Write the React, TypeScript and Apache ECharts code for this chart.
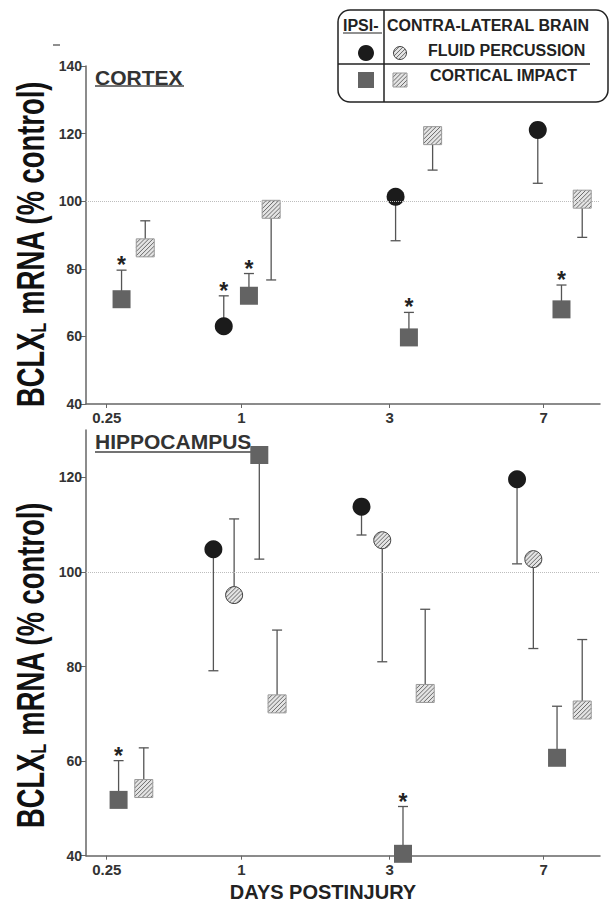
import React, { useEffect, useRef } from 'react';
import * as echarts from 'echarts';

// ---------- axis / categories ----------
const DAY_LABELS = ['0.25', '1', '3', '7'];
const DAY_POS = [0.14, 1.05, 2.05, 3.09];
const X_MAX = 3.47;
const TOP_Y_TICKS = [40, 60, 80, 100, 120, 140];
const BOT_Y_TICKS = [40, 60, 80, 100, 120];

// ---------- CORTEX ----------
// fluid percussion, ipsilateral (black circle)
const cxFpIpsiX = [0.93, 2.09, 3.05];
const cxFpIpsiY = [63, 101.3, 121.1];
const cxFpIpsiErr = [72, 88.3, 105.3];
const cxFpIpsiSig = [1, 0, 0];
// cortical impact, ipsilateral (gray square)
const cxCiIpsiX = [0.24, 1.1, 2.18, 3.21];
const cxCiIpsiY = [71, 72, 59.7, 68];
const cxCiIpsiErr = [79.6, 78.6, 67.1, 75.2];
const cxCiIpsiSig = [1, 1, 1, 1];
// cortical impact, contralateral (hatched square)
const cxCiContraX = [0.4, 1.25, 2.34, 3.35];
const cxCiContraY = [86.2, 97.6, 119.4, 100.6];
const cxCiContraErr = [94.2, 76.7, 109.2, 89.3];
const cxCiContraSig = [0, 0, 0, 0];

// ---------- HIPPOCAMPUS ----------
const hcFpIpsiX = [0.86, 1.86, 2.91];
const hcFpIpsiY = [104.8, 113.8, 119.6];
const hcFpIpsiErr = [79.1, 107.8, 101.7];
const hcFpIpsiSig = [0, 0, 0];
const hcFpContraX = [1.0, 2.0, 3.02];
const hcFpContraY = [95.1, 106.7, 102.7];
const hcFpContraErr = [111.2, 81, 83.8];
const hcFpContraSig = [0, 0, 0];
const hcCiIpsiX = [0.22, 1.17, 2.14, 3.18];
const hcCiIpsiY = [51.8, 124.7, 40.4, 60.7];
const hcCiIpsiErr = [60.1, 102.7, 50.4, 71.6];
const hcCiIpsiSig = [1, 0, 1, 0];
const hcCiContraX = [0.39, 1.29, 2.29, 3.35];
const hcCiContraY = [54.2, 72.1, 74.3, 70.8];
const hcCiContraErr = [62.8, 87.7, 92.1, 85.7];
const hcCiContraSig = [0, 0, 0, 0];

const FONT = '"Liberation Sans", Arial, Helvetica, sans-serif';
const BAR_COLOR = '#555';
const HATCH_FILL = '#e4e4e4';
const HATCH_LINE = '#6a6a6a';

function hatchSquare(cx: number, cy: number, s: number, step = 4.2): any[] {
  const L = cx - s / 2;
  const T = cy - s / 2;
  const out: any[] = [];
  for (let c = L + T + step; c < L + T + 2 * s; c += step) {
    let x1, y1, x2, y2;
    if (c <= L + T + s) {
      x1 = L; y1 = c - L; x2 = c - T; y2 = T;
    } else {
      x1 = c - T - s; y1 = T + s; x2 = L + s; y2 = c - L - s;
    }
    out.push({ type: 'line', shape: { x1, y1, x2, y2 }, style: { stroke: HATCH_LINE, lineWidth: 1 } });
  }
  return out;
}

function hatchCircle(cx: number, cy: number, r: number, step = 2.9): any[] {
  const out: any[] = [];
  const k = Math.SQRT1_2;
  for (let t = -r + step / 2; t < r; t += step) {
    const h = Math.sqrt(Math.max(0, r * r - t * t));
    const fx = cx + t * k;
    const fy = cy + t * k;
    out.push({
      type: 'line',
      shape: { x1: fx - h * k, y1: fy + h * k, x2: fx + h * k, y2: fy - h * k },
      style: { stroke: HATCH_LINE, lineWidth: 1 },
    });
  }
  return out;
}

function marker(kind: string, cx: number, cy: number, size: number): any[] {
  const r = size / 2;
  if (kind === 'circle') {
    return [{ type: 'circle', shape: { cx, cy, r }, style: { fill: '#1b1b1b' } }];
  }
  if (kind === 'square') {
    return [{ type: 'rect', shape: { x: cx - r, y: cy - r, width: size, height: size }, style: { fill: '#636363' } }];
  }
  if (kind === 'hsquare') {
    return [
      { type: 'rect', shape: { x: cx - r, y: cy - r, width: size, height: size }, style: { fill: HATCH_FILL } },
      ...hatchSquare(cx, cy, size),
      { type: 'rect', shape: { x: cx - r, y: cy - r, width: size, height: size }, style: { fill: 'none', stroke: '#999', lineWidth: 1 } },
    ];
  }
  // hatched circle
  return [
    { type: 'circle', shape: { cx, cy, r }, style: { fill: HATCH_FILL } },
    ...hatchCircle(cx, cy, r),
    { type: 'circle', shape: { cx, cy, r }, style: { fill: 'none', stroke: '#444', lineWidth: 1 } },
  ];
}

function makeSeries(gridIdx: number, kind: string, xs: number[], ys: number[], errs: number[], sigs: number[], size: number, withRef = false): any {
  const data = xs.map((x, i) => [x, ys[i], errs[i], sigs[i]]);
  const s: any = {
    type: 'custom',
    xAxisIndex: gridIdx,
    yAxisIndex: gridIdx,
    dimensions: ['x', 'y', 'err', 'sig'],
    encode: { x: 0, y: 1 },
    clip: false,
    data,
    renderItem: (params: any, api: any) => {
      const x = api.value(0);
      const y = api.value(1);
      const e = api.value(2);
      const sig = api.value(3);
      const p = api.coord([x, y]);
      const q = api.coord([x, e]);
      const children: any[] = [
        { type: 'line', shape: { x1: p[0], y1: p[1], x2: q[0], y2: q[1] }, style: { stroke: BAR_COLOR, lineWidth: 1.3 } },
        { type: 'line', shape: { x1: q[0] - 5, y1: q[1], x2: q[0] + 5, y2: q[1] }, style: { stroke: BAR_COLOR, lineWidth: 1.3 } },
        ...marker(kind, p[0], p[1], size),
      ];
      if (sig) {
        children.push({
          type: 'text',
          x: q[0],
          y: q[1] - 5,
          style: { text: '*', fontSize: 23, fontWeight: 'bold', fontFamily: FONT, fill: '#222', align: 'center', verticalAlign: 'middle' },
        });
      }
      return { type: 'group', children };
    },
  };
  if (withRef) {
    s.markLine = {
      silent: true,
      symbol: 'none',
      label: { show: false },
      lineStyle: { type: 'dotted', color: '#bdbdbd', width: 1 },
      data: [{ yAxis: 100 }],
    };
  }
  return s;
}

function xAxisOpt(gridIdx: number): any {
  return {
    type: 'value',
    gridIndex: gridIdx,
    min: 0,
    max: X_MAX,
    axisLine: { show: true, lineStyle: { color: '#666', width: 1.5 } },
    axisTick: { show: true, inside: false, length: 4, customValues: DAY_POS, lineStyle: { color: '#666' } },
    axisLabel: {
      show: true,
      customValues: DAY_POS,
      margin: 6,
      fontSize: 15,
      fontWeight: 'bold',
      fontFamily: FONT,
      color: '#333',
      formatter: (v: number) => {
        let best = 0;
        DAY_POS.forEach((p, i) => { if (Math.abs(p - v) < Math.abs(DAY_POS[best] - v)) best = i; });
        return DAY_LABELS[best];
      },
    },
    splitLine: { show: false },
  };
}

function yAxisOpt(gridIdx: number, max: number, ticks: number[]): any {
  return {
    type: 'value',
    gridIndex: gridIdx,
    min: 40,
    max,
    interval: 20,
    axisLine: { show: true, lineStyle: { color: '#666', width: 1.5 } },
    axisTick: { show: true, inside: false, length: 5, customValues: ticks, lineStyle: { color: '#666' } },
    axisLabel: { show: true, customValues: ticks, margin: 4, fontSize: 14, fontWeight: 'bold', fontFamily: FONT, color: '#333' },
    splitLine: { show: false },
  };
}

function yLabel(cx: number, cy: number): any {
  return {
    type: 'text',
    x: cx,
    y: cy,
    rotation: Math.PI / 2,
    scaleX: 0.72,
    style: {
      text: '{a|BCLX}{s|L}{a| mRNA (% control)}',
      align: 'center',
      verticalAlign: 'middle',
      rich: {
        a: { fontSize: 38, fontWeight: 'bold', fontFamily: FONT, fill: '#111' },
        s: { fontSize: 22, fontWeight: 'bold', fontFamily: FONT, fill: '#111', verticalAlign: 'bottom' },
      },
    },
  };
}

function txt(x: number, y: number, text: string, size: number, color = '#222', align = 'left'): any {
  return {
    type: 'text',
    x,
    y,
    style: { text, fontSize: size, fontWeight: 'bold', fontFamily: FONT, fill: color, align, verticalAlign: 'middle' },
  };
}

function ln(x1: number, y1: number, x2: number, y2: number, color = '#222', w = 1.5): any {
  return { type: 'line', shape: { x1, y1, x2, y2 }, style: { stroke: color, lineWidth: w } };
}

export default function App() {
  const ref = useRef<HTMLDivElement>(null);
  useEffect(() => {
    if (!ref.current) return;
    const chart = echarts.init(ref.current, undefined, { renderer: 'svg' });

    const legend: any[] = [
      { type: 'rect', shape: { x: 338, y: 10, width: 270, height: 92, r: 12 }, style: { fill: '#fff', stroke: '#222', lineWidth: 1.5 } },
      ln(384, 10, 384, 102),
      ln(338, 64, 590, 64),
      txt(343, 25, 'IPSI-', 16),
      ln(343, 33, 382, 33, '#222', 1.2),
      txt(387, 25, 'CONTRA-LATERAL BRAIN', 16),
      ...marker('circle', 366, 53, 16),
      ...marker('hcircle', 400, 53, 13),
      txt(428, 50, 'FLUID PERCUSSION', 16),
      ...marker('square', 366, 80, 16),
      ...marker('hsquare', 400, 80, 14),
      txt(430, 75, 'CORTICAL IMPACT', 16),
    ];

    const option: any = {
      animation: false,
      backgroundColor: '#fff',
      grid: [
        { left: 86, top: 66, width: 514, height: 338 },
        { left: 86, top: 430, width: 514, height: 425.7 },
      ],
      xAxis: [xAxisOpt(0), xAxisOpt(1)],
      yAxis: [yAxisOpt(0, 140, TOP_Y_TICKS), yAxisOpt(1, 130, BOT_Y_TICKS)],
      series: [
        makeSeries(0, 'circle', cxFpIpsiX, cxFpIpsiY, cxFpIpsiErr, cxFpIpsiSig, 18, true),
        makeSeries(0, 'square', cxCiIpsiX, cxCiIpsiY, cxCiIpsiErr, cxCiIpsiSig, 18),
        makeSeries(0, 'hsquare', cxCiContraX, cxCiContraY, cxCiContraErr, cxCiContraSig, 18),
        makeSeries(1, 'circle', hcFpIpsiX, hcFpIpsiY, hcFpIpsiErr, hcFpIpsiSig, 18, true),
        makeSeries(1, 'hcircle', hcFpContraX, hcFpContraY, hcFpContraErr, hcFpContraSig, 17),
        makeSeries(1, 'square', hcCiIpsiX, hcCiIpsiY, hcCiIpsiErr, hcCiIpsiSig, 18),
        makeSeries(1, 'hsquare', hcCiContraX, hcCiContraY, hcCiContraErr, hcCiContraSig, 18),
      ],
      graphic: [
        ln(53, 45, 60, 45, '#444', 1.2),
        txt(95, 77, 'CORTEX', 21, '#333'),
        ln(95, 86, 184, 86, '#444', 1.5),
        txt(95, 441, 'HIPPOCAMPUS', 21, '#333'),
        ln(95, 452, 257, 452, '#444', 1.5),
        yLabel(31, 244),
        yLabel(31, 665),
        txt(323, 892, 'DAYS POSTINJURY', 20, '#222', 'center'),
        ...legend,
      ],
    };
    chart.setOption(option);
    return () => chart.dispose();
  }, []);
  return <div ref={ref} style={{ position: 'absolute', left: 0, top: 0, width: 611, height: 903 }} />;
}
